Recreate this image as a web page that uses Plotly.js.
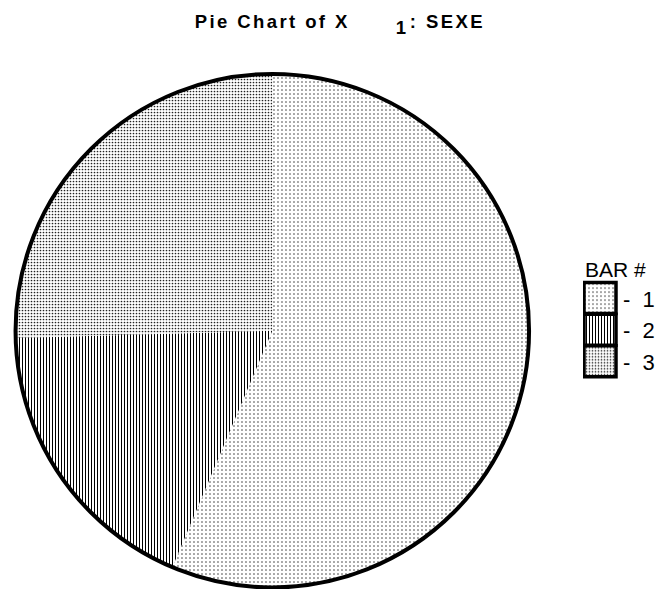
<!DOCTYPE html>
<html>
<head>
<meta charset="utf-8">
<script src="https://cdn.plot.ly/plotly-3.0.1.min.js"></script>
<style>
html,body{margin:0;padding:0;background:#fff}
#chart{width:660px;height:589px}
#chart .gtitle, #chart .annotation-text{letter-spacing:2.4px}
</style>
</head>
<body>
<div id="chart"></div>
<script>
// Data
const categories = ["1", "2", "3"];
const counts = [31, 10, 14];
const legendLabels = categories.map(c => "-\u00a0\u00a0" + c);
const titleMain = "Pie Chart of X";
const titleSub = "1";
const titleVar = ": SEXE";

const pieDomain = {x: [0.0237, 0.8065], y: [0.0, 0.877]};

const slices = {
  type: "pie",
  labels: legendLabels,
  values: counts,
  sort: false,
  direction: "clockwise",
  rotation: 0,
  textinfo: "none",
  hoverinfo: "label+value+percent",
  domain: pieDomain,
  marker: {
    colors: ["#ffffff", "#ffffff", "#ffffff"],
    line: {color: "#000", width: 0},
    pattern: {
      shape: [".", "|", "."],
      size: [4, 3, 3],
      solidity: [0.12, 0.35, 0.25],
      fgcolor: ["#333", "#000", "#222"],
      bgcolor: ["#fff", "#fff", "#fff"],
      fillmode: "replace"
    }
  },
  showlegend: true
};

const outline = {
  type: "pie",
  labels: ["all"],
  values: [1],
  sort: false,
  textinfo: "none",
  hoverinfo: "skip",
  domain: pieDomain,
  marker: {colors: ["rgba(0,0,0,0)"], line: {color: "#000", width: 4}},
  showlegend: false
};

const fam = "Liberation Sans, Arial, sans-serif";
const layout = {
  width: 660, height: 589,
  margin: {l: 0, r: 0, t: 0, b: 0},
  paper_bgcolor: "#fff",
  font: {family: fam, color: "#000"},
  title: {
    text: "<b>" + titleMain + "</b>",
    font: {size: 18.5, family: fam},
    xref: "paper", x: 196 / 660, xanchor: "left",
    y: 1 - 21.5 / 589, yanchor: "middle"
  },
  annotations: [
    {text: "<b>" + titleSub + "</b>", xref: "paper", yref: "paper",
     x: 404.5 / 660, y: 1 - 27.5 / 589, xanchor: "center", yanchor: "middle",
     showarrow: false, font: {size: 18.5, family: fam}},
    {text: "<b>" + titleVar + "</b>", xref: "paper", yref: "paper",
     x: 418 / 660, y: 1 - 21.5 / 589, xanchor: "left", yanchor: "middle",
     showarrow: false, font: {size: 18.5, family: fam}}
  ],
  legend: {
    x: 587 / 660, xanchor: "left", y: 1 - 250 / 589, yanchor: "top",
    title: {text: "BAR #", font: {size: 21}},
    font: {size: 22},
    traceorder: "normal",
    borderwidth: 0
  },
  showlegend: true
};

Plotly.newPlot("chart", [slices, outline], layout, {displayModeBar: false, staticPlot: true}).then(gd => {
  // enlarge legend swatches and give them the thick black frame of the reference
  gd.querySelectorAll("path.legendpie").forEach(p => {
    p.setAttribute("d", "M13,15.5H-19V-15.5H13Z");
    p.style.stroke = "#000";
    p.style.strokeWidth = "3.5px";
  });
});
</script>
</body>
</html>
